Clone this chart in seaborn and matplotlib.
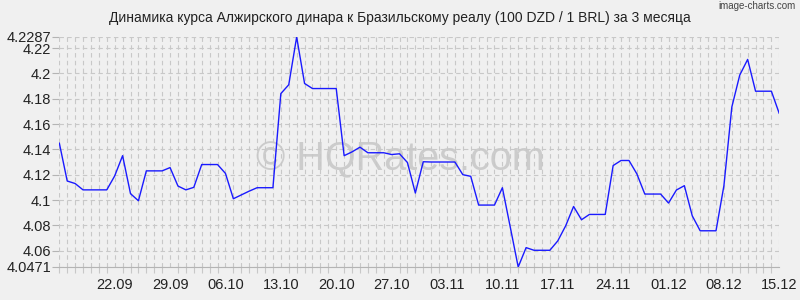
import matplotlib
matplotlib.use("Agg")
import matplotlib.pyplot as plt
import matplotlib.dates as mdates
import seaborn as sns
import pandas as pd
import numpy as np

title = "Динамика курса Алжирского динара к Бразильскому реалу (100 DZD / 1 BRL) за 3 месяца"
start_date = "2023-09-15"
rates = [
    4.145, 4.115, 4.113, 4.108, 4.108, 4.108, 4.108, 4.119, 4.135, 4.105,
    4.0994, 4.123, 4.123, 4.123, 4.1256, 4.111, 4.108, 4.110, 4.128, 4.128,
    4.128, 4.121, 4.101, 4.104, 4.107, 4.1097, 4.1097, 4.1097, 4.184, 4.191,
    4.2287, 4.192, 4.188, 4.188, 4.188, 4.188, 4.135, 4.138, 4.1417, 4.1373,
    4.1373, 4.1373, 4.1359, 4.1365, 4.1296, 4.1055, 4.1302, 4.130, 4.130, 4.130,
    4.130, 4.120, 4.1187, 4.096, 4.096, 4.096, 4.1097, 4.0785, 4.0471, 4.0624,
    4.0603, 4.0603, 4.0603, 4.0677, 4.0796, 4.0949, 4.0844, 4.0886, 4.0886, 4.0886,
    4.1272, 4.1312, 4.1312, 4.1206, 4.1047, 4.1047, 4.1047, 4.0976, 4.1079, 4.1113,
    4.0875, 4.0757, 4.0757, 4.0757, 4.1113, 4.1734, 4.1986, 4.2110, 4.1859, 4.1859,
    4.1859, 4.1682,
]
y_ticks = [4.0471, 4.06, 4.08, 4.1, 4.12, 4.14, 4.16, 4.18, 4.2, 4.22, 4.2287]
y_tick_labels = ["4.0471", "4.06", "4.08", "4.1", "4.12", "4.14", "4.16", "4.18", "4.2", "4.22", "4.2287"]
x_tick_dates = ["2023-09-22", "2023-09-29", "2023-10-06", "2023-10-13", "2023-10-20",
                "2023-10-27", "2023-11-03", "2023-11-10", "2023-11-17", "2023-11-24",
                "2023-12-01", "2023-12-08", "2023-12-15"]
x_tick_labels = ["22.09", "29.09", "06.10", "13.10", "20.10", "27.10", "03.11",
                 "10.11", "17.11", "24.11", "01.12", "08.12", "15.12"]

dates = pd.date_range(start_date, periods=len(rates), freq="D")
df = pd.DataFrame({"date": dates, "rate": rates})

sns.set_theme(style="white")
plt.rcParams["font.family"] = ["Liberation Sans", "DejaVu Sans"]

bg = "#f0f0f0"
grid_c = "#c8c8c8"
fig = plt.figure(figsize=(8, 3), dpi=100, facecolor=bg)
ax = fig.add_axes([59.3 / 800, 1 - 267 / 300, 720 / 800, 230 / 300])
ax.set_facecolor(bg)

sns.lineplot(data=df, x="date", y="rate", ax=ax, color="#1a1aff", linewidth=1.0, zorder=3)

ax.set_xlim(dates[0], dates[-1])
ax.set_ylim(y_ticks[0], y_ticks[-1])
ax.set_yticks(y_ticks)
ax.set_yticklabels(y_tick_labels)
ax.set_xticks(pd.to_datetime(x_tick_dates))
ax.set_xticklabels(x_tick_labels)
ax.xaxis.set_minor_locator(mdates.DayLocator())
ax.set_xlabel("")
ax.set_ylabel("")

# grid
ax.grid(False)
for d in dates:
    ax.axvline(d, color=grid_c, lw=0.8, ls=(0, (4, 3)), zorder=1)
for yv in y_ticks:
    ax.axhline(yv, color=grid_c, lw=0.8, ls=(0, (4, 3)), zorder=1)

for s in ["top", "right", "left"]:
    ax.spines[s].set_visible(False)
ax.spines["bottom"].set_color("#b4b4b4")
ax.spines["bottom"].set_linewidth(0.8)

ax.tick_params(axis="y", which="major", length=5, width=0.8, color="#b4b4b4",
               labelsize=10.5, labelcolor="#222222", pad=1, left=True)
ax.tick_params(axis="x", which="major", length=0, labelsize=10.5, labelcolor="#222222", pad=8)
ax.tick_params(axis="x", which="minor", length=4, width=0.8, color=grid_c, bottom=True)

# watermark
ax.text(0.474, 0.47, "© HQRates.com", transform=ax.transAxes, ha="center", va="center",
        fontsize=28.5, color="#c8c8c8", alpha=0.9, zorder=2,
        family=["Liberation Sans", "DejaVu Sans"])

fig.text(0.5, 1 - 18 / 300, title, ha="center", va="center", fontsize=10, color="#222222",
         family=["Liberation Sans", "DejaVu Sans"])
fig.text(0.994, 1 - 6 / 300, "image-charts.com", ha="right", va="center", fontsize=7,
         color="#444444", family=["Liberation Sans", "DejaVu Sans"])

fig.savefig("out.png", dpi=100, facecolor=bg)
